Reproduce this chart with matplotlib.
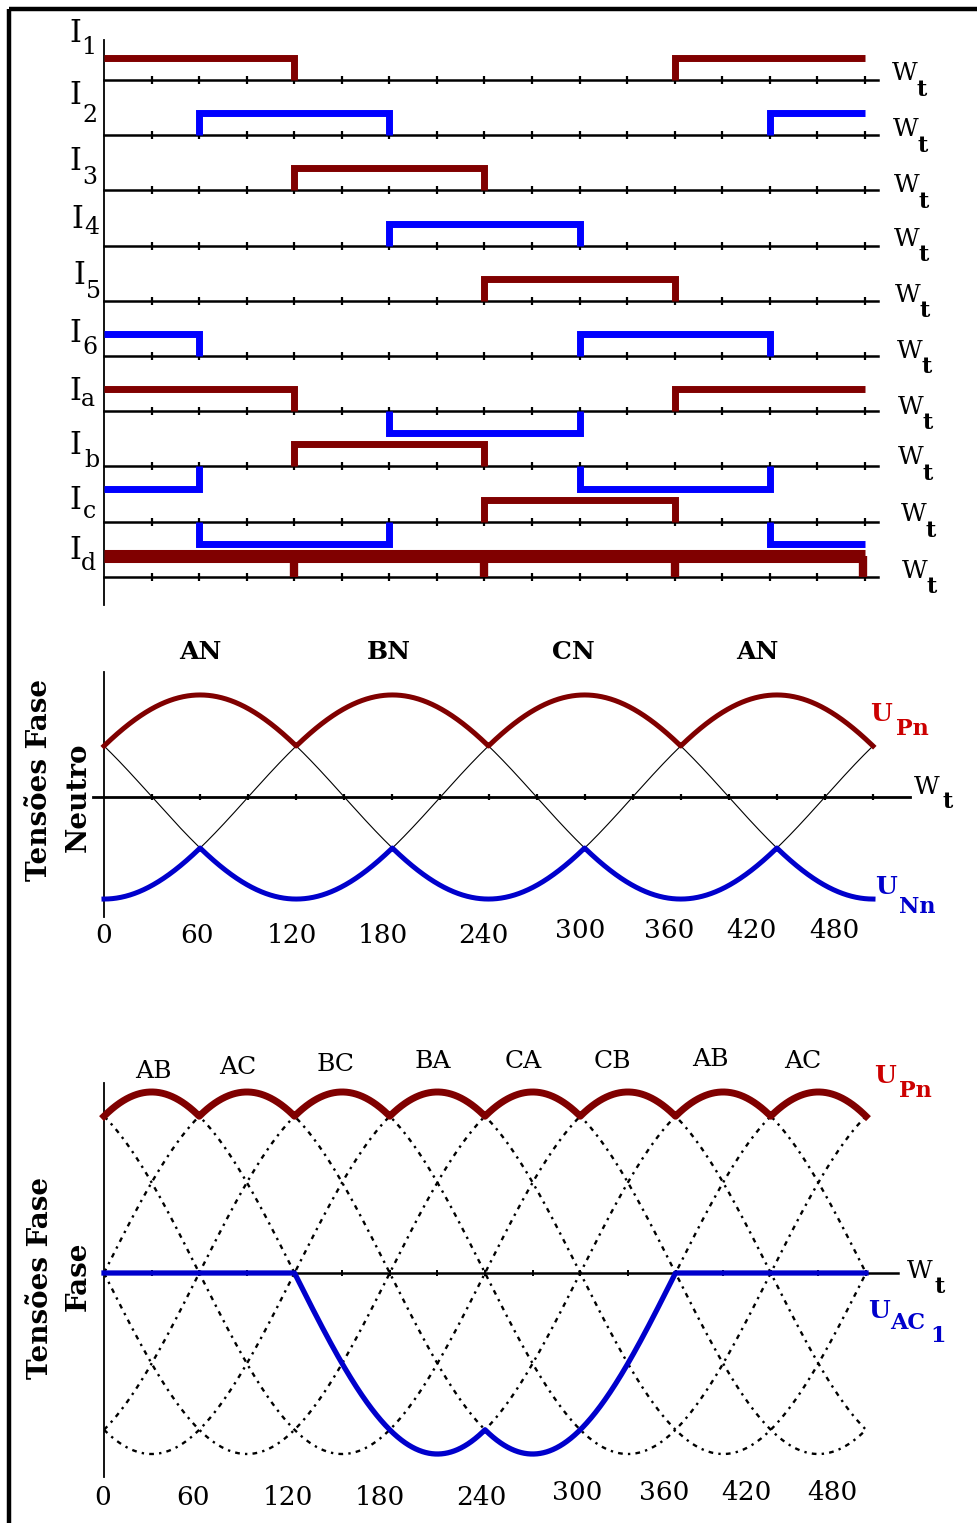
import numpy as np
import matplotlib
matplotlib.use("Agg")
import matplotlib.pyplot as plt

# ---------------- data ----------------
seg_edges = [0, 60, 120, 180, 240, 300, 360, 420, 480]
row_names = ["1", "2", "3", "4", "5", "6", "a", "b", "c", "d"]
I1 = [1, 1, 0, 0, 0, 0, 1, 1]
I2 = [0, 1, 1, 0, 0, 0, 0, 1]
I3 = [0, 0, 1, 1, 0, 0, 0, 0]
I4 = [0, 0, 0, 1, 1, 0, 0, 0]
I5 = [0, 0, 0, 0, 1, 1, 0, 0]
I6 = [1, 0, 0, 0, 0, 1, 1, 0]
Ia = [1, 1, 0, -1, -1, 0, 1, 1]
Ib = [-1, 0, 1, 1, 0, -1, -1, 0]
Ic = [0, -1, -1, 0, 1, 1, 0, -1]
Id_level = [1, 1, 1, 1, 1, 1, 1, 1]
Id_notches = [120, 240, 360, 480]
row_colors_pos = ["#800000", "#0000ff", "#800000", "#0000ff", "#800000", "#0000ff",
                  "#800000", "#800000", "#800000", "#800000"]
neg_color = "#0000ff"

# phase voltages: peak positions (degrees) of phases A, B, C
phase_peak = {"A": 60, "B": 180, "C": 300}
phase_amp = 1.0

mid_top_labels = ["AN", "BN", "CN", "AN"]
mid_top_pos = [60, 178, 293, 408]
mid_tick_labels = ["0", "60", "120", "180", "240", "300", "360", "420", "480"]
mid_tick_pos = [0, 58, 117, 174, 237, 297, 353, 404, 456]

bot_top_labels = ["AB", "AC", "BC", "BA", "CA", "CB", "AB", "AC"]
bot_top_pos = [31, 84, 146, 207, 264, 320, 382, 440]
bot_tick_labels = ["0", "60", "120", "180", "240", "300", "360", "420", "480"]
bot_tick_pos = [-1, 56, 116, 174, 238, 298, 353, 405, 459]

# ---------------- figure ----------------
W, H = 978, 1523
fig = plt.figure(figsize=(W / 100, H / 100), dpi=100)
fig.patch.set_facecolor("white")
plt.rcParams["mathtext.fontset"] = "dejavuserif"
SERIF = ["DejaVu Serif"]

def px_axes(x0, x1, yt, yb):
    ax = fig.add_axes([x0 / W, 1 - yb / H, (x1 - x0) / W, (yb - yt) / H])
    ax.set_facecolor("none")
    return ax

def ptext(x, y, s, size, color="black", weight="normal", rot=0, ha="center", va="center"):
    fig.text(x / W, 1 - y / H, s, fontsize=size, color=color, fontweight=weight,
             rotation=rot, ha=ha, va=va, family=SERIF)

# frame (top and left edges)
frame = fig.add_axes([0, 0, 1, 1])
frame.set_xlim(0, W)
frame.set_ylim(H, 0)
frame.axis("off")
frame.plot([9, 9], [9, H], color="black", lw=3.2, solid_capstyle="butt")
frame.plot([9, W], [9, 9], color="black", lw=3.2, solid_capstyle="butt")

tick_deg = np.arange(30, 481, 30)

# ---------------- top panel: currents ----------------
ax1 = px_axes(104, 865, 40, 605)
ax1.set_xlim(0, 480)
ax1.set_ylim(-9.51, 0.725)
for s in ["top", "right", "bottom"]:
    ax1.spines[s].set_visible(False)
ax1.spines["left"].set_linewidth(1.3)
ax1.set_xticks([])
ax1.set_yticks([])

rows = [I1, I2, I3, I4, I5, I6, Ia, Ib, Ic]
pulse_h = 0.40
for i in range(10):
    y0 = -i
    ax1.plot([0, 488], [y0, y0], color="black", lw=1.8, clip_on=False, zorder=2)
    ax1.plot(tick_deg, [y0] * len(tick_deg), ls="none", marker="|", ms=6, mew=1.6,
             color="black", clip_on=False, zorder=2)

for i, lev in enumerate(rows):
    y0 = -i
    k = 0
    while k < 8:
        if lev[k] == 0:
            k += 1
            continue
        L = lev[k]
        j = k
        while j + 1 < 8 and lev[j + 1] == L:
            j += 1
        xs, ys = [], []
        st, en = seg_edges[k], seg_edges[j + 1]
        if st > 0:
            xs.append(st); ys.append(y0)
        xs += [st, en]; ys += [y0 + L * pulse_h, y0 + L * pulse_h]
        if en < 480:
            xs.append(en); ys.append(y0)
        col = row_colors_pos[i] if L > 0 else neg_color
        ax1.plot(xs, ys, color=col, lw=5, solid_joinstyle="miter",
                 solid_capstyle="butt", clip_on=False, zorder=3)
        k = j + 1

# Id : constant with commutation notches
yid = -9
id_h = 0.38
ax1.plot([seg_edges[0], seg_edges[-1]], [yid + Id_level[0] * id_h] * 2, color="#800000",
         lw=9.4, solid_capstyle="butt", clip_on=False, zorder=3)
for n in Id_notches:
    xn = n - 1.5 if n == 480 else n
    ax1.plot([xn, xn], [yid, yid + id_h], color="#800000", lw=6, solid_capstyle="butt",
             clip_on=False, zorder=3)

# row labels
I_main = [(75, 34), (75, 96), (75, 162), (77, 219), (79, 276), (75, 333), (75, 391),
          (75, 445), (75, 501), (75, 551)]
I_sub = [(89, 47), (90, 115), (90, 177), (92, 228), (93, 292), (90, 347), (88, 399),
         (92, 460), (89, 512), (88, 564)]
for (mx, my), (sx, sy), nm in zip(I_main, I_sub, row_names):
    ptext(mx, my, "I", 22)
    ptext(sx, sy, nm, 17)

baselines_px = [80, 136, 192, 245, 301, 357, 413, 464, 521, 577]
W_x = [905, 906, 907, 907, 908, 910, 911, 911, 914, 915]
for bx, by in zip(W_x, baselines_px):
    ptext(bx, by - 6, "W", 18)
    ptext(bx + 17, by + 10, "t", 16, weight="bold")

# ---------------- phase voltages ----------------
th = np.linspace(0, 480, 2401)
va = phase_amp * np.cos(np.radians(th - phase_peak["A"]))
vb = phase_amp * np.cos(np.radians(th - phase_peak["B"]))
vc = phase_amp * np.cos(np.radians(th - phase_peak["C"]))
v_upper = np.maximum(np.maximum(va, vb), vc)
v_lower = np.minimum(np.minimum(va, vb), vc)

ax2 = px_axes(104, 873, 672, 917)
ax2.set_xlim(0, 480)
ax2.set_ylim(-1.176, 1.225)
for s in ["top", "right", "bottom"]:
    ax2.spines[s].set_visible(False)
ax2.spines["left"].set_linewidth(1.3)
ax2.set_xticks([])
ax2.set_yticks([])
ax2.plot([-7, 503], [0, 0], color="black", lw=2.0, clip_on=False, zorder=2)
ax2.plot(tick_deg, [0] * len(tick_deg), ls="none", marker="|", ms=5, mew=1.6,
         color="black", clip_on=False, zorder=2)
for v in (va, vb, vc):
    ax2.plot(th, v, color="black", lw=0.8, zorder=3)
ax2.plot(th, v_upper, color="#800000", lw=3.6, zorder=4, clip_on=False)
ax2.plot(th, v_lower, color="#0000cc", lw=3.6, zorder=4, clip_on=False)

for lab, p in zip(mid_top_labels, mid_top_pos):
    ax2.text(p, 1.42, lab, fontsize=18, fontweight="bold", ha="center", va="center",
             family=SERIF, clip_on=False)
for lab, p, k in zip(mid_tick_labels, mid_tick_pos, range(9)):
    ypx = 935 if k < 5 else 930
    ax2.text(p, -(ypx - 797) / 102.0, lab, fontsize=19, ha="center", va="center",
             family=SERIF, clip_on=False)

ptext(927, 787, "W", 18)
ptext(948, 802, "t", 16, weight="bold")
ptext(881, 714, "U", 18, color="#cc0000", weight="bold")
ptext(912, 729, "Pn", 16, color="#cc0000", weight="bold")
ptext(886, 887, "U", 18, color="#0000cc", weight="bold")
ptext(917, 907, "Nn", 16, color="#0000cc", weight="bold")
ptext(40, 780, "Tensões Fase", 20, weight="bold", rot=90)
ptext(78, 797, "Neutro", 20, weight="bold", rot=90)

# ---------------- line voltages ----------------
vab, vac = va - vb, va - vc
vbc, vba = vb - vc, vb - va
vca, vcb = vc - va, vc - vb
line_v = [vab, vac, vbc, vba, vca, vcb]
v_rect = np.max(np.vstack(line_v), axis=0)
v_thy = np.minimum(np.minimum(vab, vac), 0)

ax3 = px_axes(104, 866, 1083, 1477)
ax3.set_xlim(0, 480)
ax3.set_ylim(-1.952, 1.818)
for s in ["top", "right", "bottom"]:
    ax3.spines[s].set_visible(False)
ax3.spines["left"].set_linewidth(1.3)
ax3.set_xticks([])
ax3.set_yticks([])
ax3.plot([0, 500], [0, 0], color="black", lw=1.8, clip_on=False, zorder=2)
ax3.plot(tick_deg, [0] * len(tick_deg), ls="none", marker="|", ms=5, mew=1.4,
         color="black", clip_on=False, zorder=2)
for v in line_v:
    ax3.plot(th, v, color="black", lw=1.7, ls=(0, (2.0, 2.2, 1.0, 2.2)), zorder=3)
ax3.plot(th, v_rect, color="#800000", lw=5, zorder=4, clip_on=False)
ax3.plot(th, v_thy, color="#0000cc", lw=3.8, zorder=4, clip_on=False)

bot_top_y = [1072, 1068, 1065, 1062, 1062, 1062, 1060, 1062]
for lab, p, ypx in zip(bot_top_labels, bot_top_pos, bot_top_y):
    ax3.text(p, (1273 - ypx) / 104.5, lab, fontsize=18, ha="center", va="center",
             family=SERIF, clip_on=False)
for lab, p, k in zip(bot_tick_labels, bot_tick_pos, range(9)):
    ypx = 1497 if k < 5 else 1492
    ax3.text(p, (1273 - ypx) / 104.5, lab, fontsize=19, ha="center", va="center",
             family=SERIF, clip_on=False)

ptext(920, 1271, "W", 18)
ptext(940, 1287, "t", 16, weight="bold")
ptext(885, 1076, "U", 18, color="#cc0000", weight="bold")
ptext(915, 1091, "Pn", 16, color="#cc0000", weight="bold")
ptext(879, 1311, "U", 18, color="#0000cc", weight="bold")
ptext(908, 1323, "AC", 16, color="#0000cc", weight="bold")
ptext(938, 1336, "1", 16, color="#0000cc", weight="bold")
ptext(41, 1278, "Tensões Fase", 20, weight="bold", rot=90)
ptext(78, 1276, "Fase", 20, weight="bold", rot=90)

fig.savefig("out.png", dpi=100, facecolor="white")
